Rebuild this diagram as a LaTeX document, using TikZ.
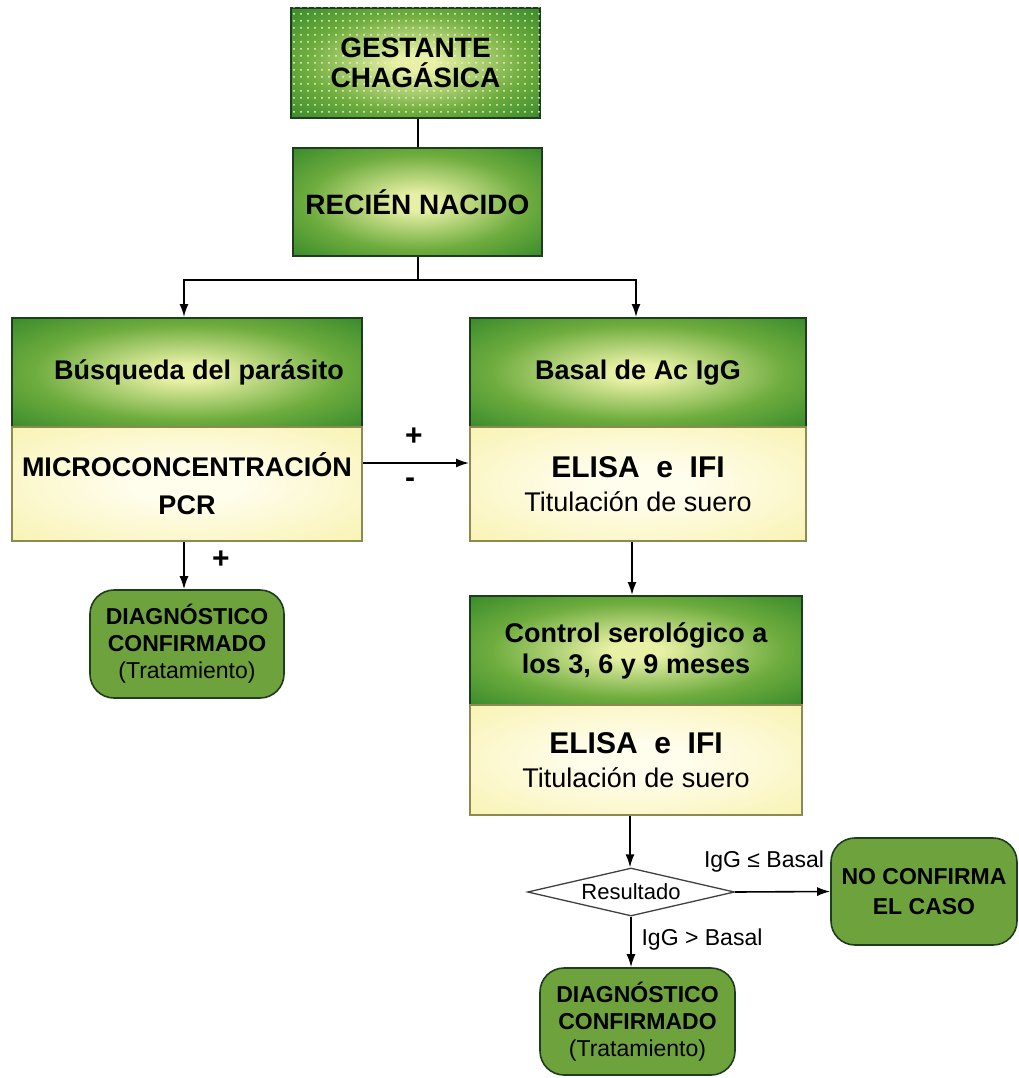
\documentclass[tikz,border=0pt]{standalone}
\usepackage{fontspec}
\setmainfont{Liberation Sans}
\usetikzlibrary{arrows.meta,shapes.geometric,patterns.meta,calc}
\definecolor{hl}{RGB}{232,240,165}
\definecolor{hm}{RGB}{110,172,62}
\definecolor{hd}{RGB}{40,128,38}
\definecolor{yl}{RGB}{255,253,236}
\definecolor{yd}{RGB}{246,240,160}
\definecolor{gb}{RGB}{30,60,30}
\definecolor{yb}{RGB}{140,138,80}
\definecolor{rg}{RGB}{110,162,60}
\pgfdeclareradialshading{hdr}{\pgfpoint{0bp}{0bp}}{color(0bp)=(hl); color(4bp)=(hl); color(22bp)=(hm); color(40bp)=(hd); color(50bp)=(hd)}
\pgfdeclareradialshading{bdy}{\pgfpoint{0bp}{0bp}}{color(0bp)=(yl); color(8bp)=(yl); color(45bp)=(yd); color(50bp)=(yd)}
\tikzset{
  head/.style={draw=gb, line width=2pt, shading=hdr, align=center, inner sep=0pt,
    font=\fontsize{27}{31}\selectfont\bfseries},
  body/.style={draw=yb, line width=2pt, shading=bdy, align=center, inner sep=0pt},
  rbox/.style={draw=gb, line width=1.6pt, fill=rg, rounded corners=24pt, align=center, inner sep=0pt,
    font=\fontsize{23}{27}\selectfont\bfseries},
  arr/.style={line width=1.6pt, -{Latex[length=13pt,width=9pt]}},
  ln/.style={line width=1.6pt},
  lbl/.style={font=\fontsize{23}{26}\selectfont, inner sep=0pt},
  sign/.style={font=\fontsize{30}{30}\selectfont\bfseries, inner sep=0pt}
}
\begin{document}
\begin{tikzpicture}[x=1pt,y=-1pt]
\useasboundingbox (0,0) rectangle (1018,1078);
% top boxes
\node[head, minimum width=249pt, minimum height=110pt,
  postaction={pattern={Dots[distance=7pt,radius=1pt]}, pattern color=hl!60!white},
  font=\fontsize{28}{30}\selectfont\bfseries] (g) at (415.5,63) {GESTANTE\\CHAGÁSICA};
\node[head, minimum width=249pt, minimum height=108pt, font=\fontsize{28}{30}\selectfont\bfseries] (rn) at (417.5,202) {RECIÉN NACIDO};
% left column
\node[head, minimum width=350pt, minimum height=109pt] (bh) at (187,372.5) {\hspace{24pt}Búsqueda del parásito};
\node[body, minimum width=350pt, minimum height=114pt, font=\fontsize{27}{38}\selectfont\bfseries] (bb) at (187,484) {MICROCONCENTRACIÓN\\PCR};
\node[rbox, minimum width=194pt, minimum height=108pt] (d1) at (187,644) {DIAGNÓSTICO\\CONFIRMADO\\{\mdseries (Tratamiento)}};
% right column
\node[head, minimum width=336pt, minimum height=109pt] (ah) at (638,372.5) {Basal de Ac IgG};
\node[body, minimum width=336pt, minimum height=114pt, font=\fontsize{27}{34}\selectfont] (ab) at (638,484)
  {{\fontsize{30}{34}\selectfont\bfseries ELISA\ \ e\ \ IFI}\\{Titulación de suero}};
\node[head, minimum width=332pt, minimum height=109pt] (ch) at (636,650.5) {Control serológico a\\los 3, 6 y 9 meses};
\node[body, minimum width=332pt, minimum height=110pt, font=\fontsize{27}{34}\selectfont] (cb) at (636,760)
  {{\fontsize{30}{34}\selectfont\bfseries ELISA\ \ e\ \ IFI}\\{Titulación de suero}};
\node[diamond, draw=black!75, line width=1.3pt, fill=white, minimum width=207pt, minimum height=48pt,
  inner sep=0pt, aspect=4.3] (res) at (631,892) {};
\node[font=\fontsize{22}{24}\selectfont, inner sep=0pt] (rest) at (res.center) {Resultado};
\node[rbox, minimum width=186pt, minimum height=107pt, font=\fontsize{23}{30}\selectfont\bfseries] (nc) at (924,891.5) {NO CONFIRMA\\EL CASO};
\node[rbox, minimum width=195pt, minimum height=107pt] (d2) at (637.5,1021.5) {DIAGNÓSTICO\\CONFIRMADO\\{\mdseries (Tratamiento)}};
% connectors
\coordinate (split) at (418,280);
\draw[ln] (g.south -| 418,0) -- (rn.north -| 418,0);
\draw[ln] (rn.south -| 418,0) -- (split);
\draw[arr] (split) -| ([xshift=-3pt]bh.north);
\draw[arr] (split) -| ([xshift=-2pt]ah.north);
\draw[arr] ([yshift=21pt]bb.east) -- ([yshift=21pt]ab.west);
\node[sign] at (414,437) {+};
\node[sign] at (410,483) {-};
\draw[arr] ([xshift=-3pt]bb.south) -- ([xshift=-3pt]bb.south |- d1.north);
\node[sign] at (221,560) {+};
\draw[arr] ([xshift=-6pt]ab.south) -- ([xshift=-6pt]ab.south |- ch.north);
\draw[arr] ([xshift=-6pt]cb.south) -- ([xshift=-6pt]cb.south |- res.north);
\draw[arr] (res.east) -- (nc.west);
\draw[arr] (res.south) -- (res.south |- d2.north);
\node[lbl] at (764,862) {IgG ≤ Basal};
\node[lbl] at (702,940) {IgG > Basal};
\end{tikzpicture}
\end{document}
